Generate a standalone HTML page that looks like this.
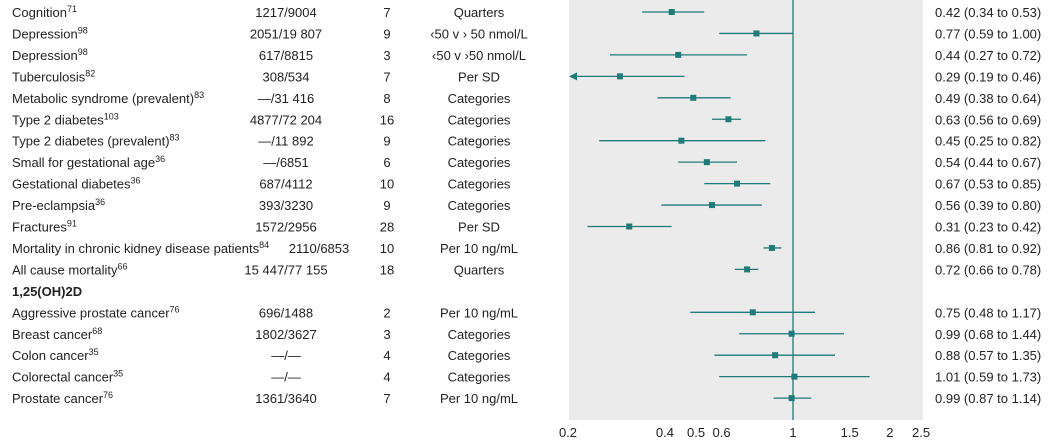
<!DOCTYPE html><html><head><meta charset="utf-8"><style>
body{margin:0;background:#fff;width:1061px;height:443px;overflow:hidden}
svg text{font-family:"Liberation Sans",sans-serif;font-size:13px;fill:#222}
</style></head><body>
<svg id="s" width="1061" height="443" xmlns="http://www.w3.org/2000/svg">
<rect x="569" y="0" width="354" height="420" fill="#ebebeb"/>
<line x1="793" y1="0" x2="793" y2="420" stroke="#1f7a7a" stroke-width="1.3"/>
</svg>
<script>
const rows=[
["Cognition","71","1217/9004","7","Quarters",0.42,0.34,0.53],
["Depression","98","2051/19 807","9","‹50 v › 50 nmol/L",0.77,0.59,1.00],
["Depression","98","617/8815","3","‹50 v ›50 nmol/L",0.44,0.27,0.72],
["Tuberculosis","82","308/534","7","Per SD",0.29,0.19,0.46],
["Metabolic syndrome (prevalent)","83","—/31 416","8","Categories",0.49,0.38,0.64],
["Type 2 diabetes","103","4877/72 204","16","Categories",0.63,0.56,0.69],
["Type 2 diabetes (prevalent)","83","—/11 892","9","Categories",0.45,0.25,0.82],
["Small for gestational age","36","—/6851","6","Categories",0.54,0.44,0.67],
["Gestational diabetes","36","687/4112","10","Categories",0.67,0.53,0.85],
["Pre-eclampsia","36","393/3230","9","Categories",0.56,0.39,0.80],
["Fractures","91","1572/2956","28","Per SD",0.31,0.23,0.42],
["Mortality in chronic kidney disease patients","84","2110/6853","10","Per 10 ng/mL",0.86,0.81,0.92],
["All cause mortality","66","15 447/77 155","18","Quarters",0.72,0.66,0.78],
["1,25(OH)2D"],
["Aggressive prostate cancer","76","696/1488","2","Per 10 ng/mL",0.75,0.48,1.17],
["Breast cancer","68","1802/3627","3","Categories",0.99,0.68,1.44],
["Colon cancer","35","—/—","4","Categories",0.88,0.57,1.35],
["Colorectal cancer","35","—/—","4","Categories",1.01,0.59,1.73],
["Prostate cancer","76","1361/3640","7","Per 10 ng/mL",0.99,0.87,1.14]];
const X=v=>793+139.8*Math.log(v);
let h='';const f=n=>n.toFixed(2);
rows.forEach((r,i)=>{const y=12+i*21.45;const ty=y+5;
if(r.length==1){h+=`<text x="12" y="${ty}" font-weight="bold">${r[0]}</text>`;return;}
h+=`<text x="12" y="${ty}">${r[0]}<tspan font-size="9" dy="-5">${r[1]}</tspan></text>`;
h+=`<text x="${i==11?319:286}" y="${ty}" text-anchor="middle">${r[2]}</text>`;
h+=`<text x="387" y="${ty}" text-anchor="middle">${r[3]}</text>`;
h+=`<text x="479" y="${ty}" text-anchor="middle">${r[4]}</text>`;
h+=`<text x="935" y="${ty}">${f(r[5])} (${f(r[6])} to ${f(r[7])})</text>`;
let x1=r[6]<0.2?571:X(r[6]);
h+=`<line x1="${x1}" y1="${y}" x2="${X(r[7])}" y2="${y}" stroke="#1f7a7a" stroke-width="1.3"/>`;
if(r[6]<0.2)h+=`<path d="M569 ${y} l8 -4 l0 8z" fill="#1f7a7a"/>`;
h+=`<rect x="${X(r[5])-3}" y="${y-3}" width="6" height="6" fill="#1f7a7a"/>`;});
[0.2,0.4,0.5,0.6,1,1.5,2,2.5].forEach(v=>{h+=`<text x="${X(v)}" y="437" text-anchor="middle">${v}</text>`;});
document.getElementById('s').insertAdjacentHTML('beforeend',h);
</script>
</body></html>
